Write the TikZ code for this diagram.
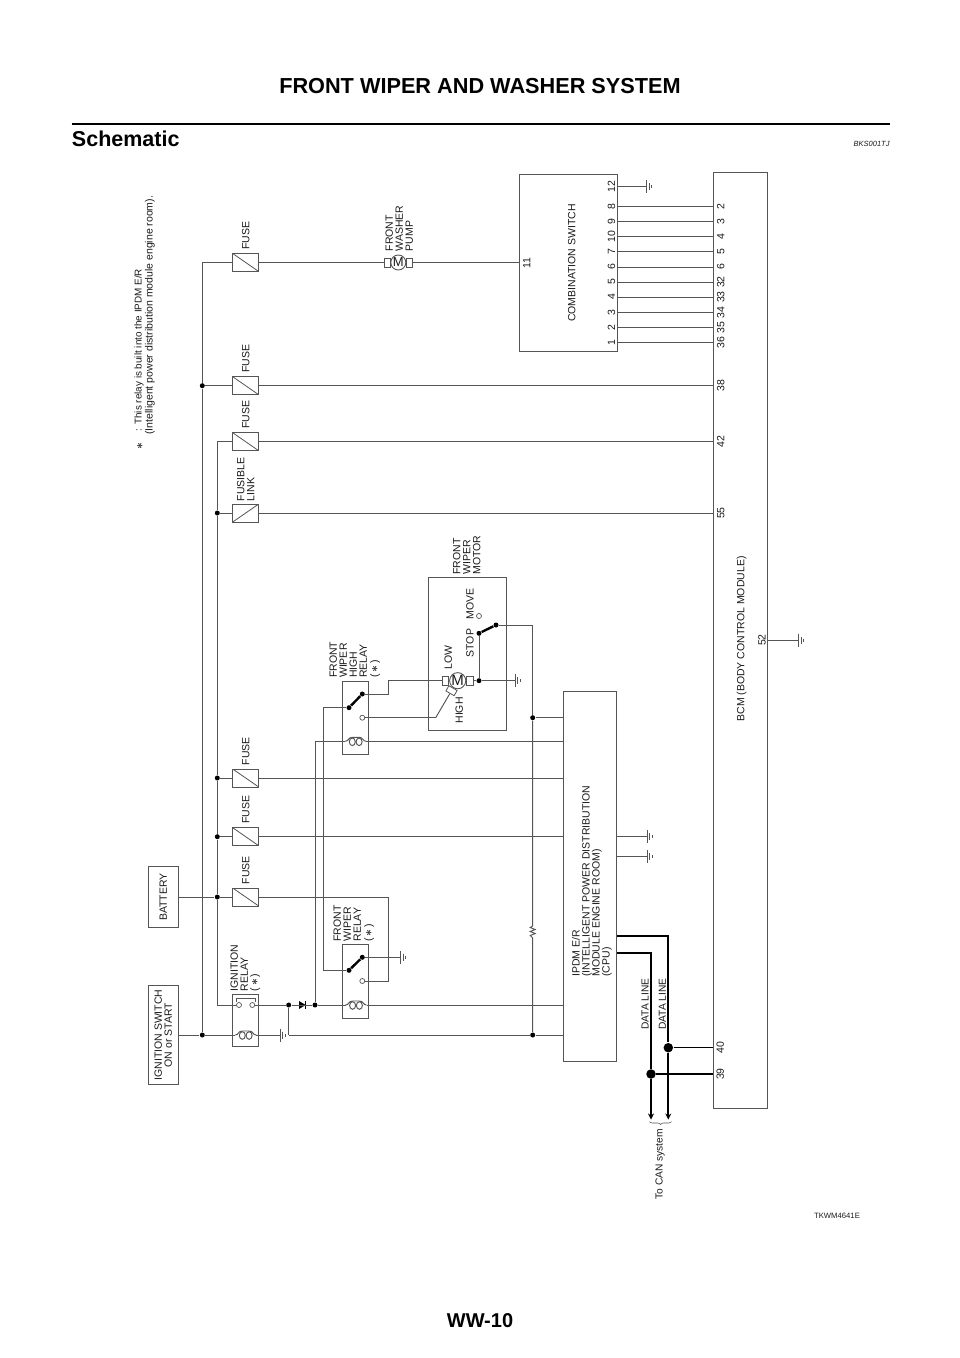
\documentclass[tikz,border=0pt]{standalone}
\usepackage{fontspec}
\setmainfont{Liberation Sans}
\usepackage{tikz}
\usetikzlibrary{arrows.meta}
\usetikzlibrary{positioning, decorations.pathreplacing}

\definecolor{wirecol}{HTML}{555555}
\definecolor{textcol}{HTML}{1A1A1A}
\newcommand{\relstar}{{\fontsize{13}{10}\selectfont\boldmath$\ast$}}

\tikzset{
    coil/.pic={
        \coordinate (-w) at (-10.5,0);
        \coordinate (-e) at (10.5,0);
        \draw (-10.5,0) .. controls (-7,0) and (-7.5,-4) .. (-3.5,-4) -- (3.5,-4) .. controls (7.5,-4) and (7,0) .. (10.5,0);
        \draw (-3.4,0.5) ellipse (3 and 3.8);
        \draw (3.4,0.5) ellipse (3 and 3.8);
    },
    gnd/.pic={
        \draw (0,-6.5) -- (0,6.5);
        \draw (2.7,-3.5) -- (2.7,3.5);
        \draw (5.2,-1.5) -- (5.2,1.5);
    },
    diode/.pic={
        \fill[black] (-3.3,-4) -- (-3.3,4) -- (3.3,0) -- cycle;
        \draw[black] (3.3,-4) -- (3.3,4);
    }
}

\begin{document}
\begin{tikzpicture}[x=1pt,y=-1pt,draw=wirecol,line width=0.95pt,text=textcol,
    every node/.style={font=\fontsize{10.5}{10}\selectfont,inner sep=0pt},
    box node/.style={draw,rectangle,minimum width=#1},
    fuse node/.style={draw,rectangle,fill=white,minimum width=26pt,minimum height=18pt,line width=0.8pt,
        path picture={\draw (path picture bounding box.north west) -- (path picture bounding box.south east);}},
    link node/.style={fuse node,
        path picture={\draw (path picture bounding box.south west) -- (path picture bounding box.north east);}},
    dot node/.style={circle,fill=black,minimum size=5pt},
    big dot/.style={circle,fill=black,minimum size=9.5pt},
    arm dot/.style={circle,fill=black,minimum size=5pt},
    contact node/.style={circle,draw,fill=white,minimum size=5pt,line width=0.7pt},
    motor node/.style={circle,draw,minimum size=#1,font=\fontsize{15}{15}\selectfont,line width=0.9pt},
    brush node/.style={draw,fill=white,rectangle,minimum width=6.5pt,minimum height=9.5pt,line width=0.8pt},
    vert node/.style={rotate=90,anchor=west},
    stack node/.style={rotate=90,anchor=north west,align=left},
    center node/.style={rotate=90,anchor=center,align=center},
    arm line/.style={line width=2.4pt,draw=black},
    data line/.style={line width=2.1pt,draw=black}]

    % page texts
    \node[font=\bfseries\fontsize{21.7}{21.7}\selectfont,text=black] (title) at (480,86) {FRONT WIPER AND WASHER SYSTEM};
    \node[font=\bfseries\fontsize{21.5}{21.5}\selectfont,text=black,anchor=base west] (head) at (71.5,146) {Schematic};
    \node[font=\itshape\fontsize{7.5}{7.5}\selectfont,anchor=base east] (bks) at (890,146) {BKS001TJ};
    \node[font=\fontsize{7.7}{7.7}\selectfont] (tkwm) at (837,1216) {TKWM4641E};
    \node[font=\bfseries\fontsize{20}{20}\selectfont,text=black] (page) at (480,1321) {WW-10};
    \coordinate (ruleL) at (71.5,124);
    \coordinate (ruleR) at (890,124);
    \draw[line width=2.8pt,draw=black] (ruleL) -- (ruleR);

    % note
    \node[vert node,font=\fontsize{13}{13}\selectfont\boldmath] (star) at (140,450) {$\ast$};
    \node[vert node,font=\fontsize{9.9}{10}\selectfont] (note1) at (139,431.5) {: This relay is built into the IPDM E/R};
    \node[vert node] (note2) at (150,435) {(Intelligent power distribution module engine room).};

    % boxes
    \node[box node=30pt,minimum height=60.5pt] (batt) at (163.3,897) {};
    \node[rotate=90] (battT) at (batt) {BATTERY};
    \node[box node=30pt,minimum height=98.5pt] (ign) at (163.3,1035) {};
    \node[center node] (ignT) at (ign) {IGNITION SWITCH\\ON or START};
    \node[box node=26pt,minimum height=52pt] (igrel) at (245.7,1020.2) {};
    \node[box node=26pt,minimum height=74pt] (wrel) at (355.7,981.3) {};
    \node[box node=26pt,minimum height=72.5pt] (hrel) at (355.5,718) {};
    \node[box node=77.7pt,minimum height=153.4pt] (mbox) at (467.8,654) {};
    \node[box node=53.4pt,minimum height=370pt] (ipdm) at (590,876) {};
    \node[box node=97.7pt,minimum height=177pt] (comb) at (568.2,262.5) {};
    \node[box node=53.7pt,minimum height=936.3pt] (bcm) at (740.8,640.2) {};

    \node[stack node] (ipdmT) at (571.5,977) {IPDM E/R\\(INTELLIGENT POWER DISTRIBUTION\\MODULE ENGINE ROOM)\\(CPU)};
    \node[rotate=90] (combT) at (571.7,263) {COMBINATION SWITCH};
    \node[vert node] (bcmT) at (741.7,722) {BCM (BODY CONTROL MODULE)};

    % fuses
    \node[fuse node] (f1) at (245.7,262.5) {};
    \node[fuse node] (f2) at (245.7,385.7) {};
    \node[fuse node] (f3) at (245.7,441.7) {};
    \node[link node] (f4) at (245.7,513) {};
    \node[fuse node] (f5) at (245.7,778) {};
    \node[fuse node] (f6) at (245.7,836.7) {};
    \node[fuse node] (f7) at (245.7,897) {};
    \foreach \f in {f1,f2,f3,f5,f6,f7}
        \node[vert node] (\f T) at ([yshift=3pt]\f.north) {FUSE};
    \node[stack node] (f4T) at (236.5,501.7) {FUSIBLE\\LINK};

    % bus lines
    \node[dot node] (a1) at (202.3,1035) {};
    \node[dot node] (a2) at (202.3,385.7) {};
    \coordinate (a3) at (202.3,262.5);
    \coordinate (b1) at (217.3,441.7);
    \node[dot node] (b2) at (217.3,513) {};
    \node[dot node] (b3) at (217.3,778) {};
    \node[dot node] (b4) at (217.3,836.7) {};
    \node[dot node] (b5) at (217.3,897) {};
    \coordinate (b6) at (217.3,1005);
    \path (a1) edge (a2) (a2) edge (a3) (a3) edge (f1.west) (a2) edge (f2.west);
    \path (b1) edge (f3.west) edge (b2) (b2) edge (f4.west) edge (b3)
        (b3) edge (f5.west) edge (b4) (b4) edge (f6.west) edge (b5)
        (b5) edge (f7.west) edge (b6);
    \path (batt.east) edge (b5) (ign.east) edge (a1);

    % washer pump
    \node[motor node=15pt,font=\fontsize{13}{13}\selectfont] (pump) at (398.3,262.5) {M};
    \node[brush node,minimum width=5.5pt,minimum height=9pt,left=0pt of pump] (pumpL) {};
    \node[brush node,minimum width=5.5pt,minimum height=9pt,right=0pt of pump] (pumpR) {};
    \node[stack node] (pumpT) at (385,251.7) {FRONT\\WASHER\\PUMP};
    \path (f1.east) edge (pumpL.west) (pumpR.east) edge (comb.west |- pumpR);
    \node[rotate=90] (pin11) at (526.7,263) {11};

    % ignition relay
    \coordinate (irA) at (239,1005);
    \coordinate (irB) at (252.3,1005);
    \path (b6) edge (irA);
    \node[contact node] (irC1) at (irA) {};
    \node[contact node] (irC2) at (irB) {};
    \draw[line width=0.8pt] (236.7,1001.5) -- (236.7,998.5) -- (255,998.5) -- (255,1001.5);
    \pic (irCoil) at (245.7,1035) {coil};
    \path (a1) edge (irCoil-w);
    \coordinate (g1) at (280,1035);
    \path (irCoil-e) edge (g1);
    \pic at (g1) {gnd};
    \node[stack node] (irT) at (230,991.7) {IGNITION\\RELAY\\(\,\relstar\,)};

    % diode and relay feed
    \node[dot node] (c1) at (288.7,1005) {};
    \node[dot node] (c2) at (315,1005) {};
    \pic at (302.3,1005) {diode};
    \path (irC2) edge (c1) (c1) edge (c2);
    \pic (wCoil) at (356,1005) {coil};
    \path (c2) edge (wCoil-w) (wCoil-e) edge (ipdm.west |- wCoil-e);
    \coordinate (c3) at (288.7,1035);
    \node[dot node] (r4) at (532.7,1035) {};
    \path (c1) edge (c3) (c3) edge (r4) (r4) edge (ipdm.west |- r4);
    \coordinate (c4) at (315,741.3);
    \path (c2) edge (c4);

    % front wiper relay
    \node[arm dot] (wP) at (349,970.3) {};
    \node[arm dot] (wS) at (362.3,957.3) {};
    \path[arm line] (wP) edge (wS);
    \node[contact node] (wO) at (362.3,981) {};
    \coordinate (g2) at (400.7,957.3);
    \path (wS) edge (g2);
    \pic at (g2) {gnd};
    \coordinate (wA) at (323.3,970.3);
    \coordinate (wB) at (323.3,707.7);
    \draw (f7.east) -| (388.3,981) -- (wO);
    \draw (wP) -- (wA) -- (wB);
    \node[stack node] (wT) at (333,942) {FRONT\\WIPER\\RELAY\\[1pt](\,\relstar\,)};

    % high relay
    \node[arm dot] (hP) at (349,707.7) {};
    \node[arm dot] (hS) at (362.3,694) {};
    \path[arm line] (hP) edge (hS);
    \node[contact node] (hO) at (362.3,717.7) {};
    \path (wB) edge (hP);
    \pic (hCoil) at (355.7,741.3) {coil};
    \path (c4) edge (hCoil-w) (hCoil-e) edge (ipdm.west |- hCoil-e);
    \node[stack node] (hT) at (329,678.3) {FRONT\\WIPER\\HIGH\\RELAY\\[1pt](\,\relstar\,)};

    % wiper motor
    \node[motor node=16pt] (mot) at (457.7,680.7) {M};
    \node[brush node,left=0pt of mot] (motL) {};
    \node[brush node,right=0pt of mot] (motR) {};
    \node[brush node,rotate=-30,minimum width=9.5pt,minimum height=6pt] (motH) at (451.5,690.7) {};
    \node[dot node] (m1) at (479,680.7) {};
    \node[arm dot] (mP) at (479,633.3) {};
    \node[arm dot] (mS) at (496,625) {};
    \path[arm line] (mP) edge (mS);
    \node[contact node] (mO) at (479,616) {};
    \coordinate (g3) at (515,680.7);
    \path (motR.east) edge (m1) (m1) edge (g3) edge (mP);
    \pic at (g3) {gnd};
    \coordinate (m2) at (435.7,717.7);
    \node[dot node] (r1) at (532.7,717.7) {};
    \draw (hS) -- (388.3,694) |- (motL.west);
    \path (motH.south) edge (m2) (m2) edge (hO) (r1) edge (ipdm.west |- r1);
    \coordinate (r2) at (532.7,625);
    \path (mS) edge (r2) (r2) edge (r1);
    \node[stack node] (motT) at (452.5,575) {FRONT\\WIPER\\MOTOR};
    \node[vert node] (lowT) at (448.3,670) {LOW};
    \node[vert node] (highT) at (459.3,724) {HIGH};
    \node[vert node] (stopT) at (470,657.7) {STOP};
    \node[vert node] (moveT) at (470,620) {MOVE};

    % resistor
    \coordinate (r3) at (532.7,926);
    \coordinate (r5) at (532.7,938);
    \draw (r1) -- (r3) -- ++(-2.5,1.5) -- ++(5,2) -- ++(-5,2) -- ++(5,2) -- ++(-5,2) -- ++(2.5,2.5) -- (r5) -- (r4);

    % ipdm side
    \coordinate (i1) at (ipdm.west |- f5.east);
    \coordinate (i2) at (ipdm.west |- f6.east);
    \path (f5.east) edge (i1) (f6.east) edge (i2);
    \coordinate (g4) at (647,836.3);
    \coordinate (g5) at (647,856.3);
    \path (ipdm.east |- g4) edge (g4) (ipdm.east |- g5) edge (g5);
    \pic at (g4) {gnd};
    \pic at (g5) {gnd};

    % data lines
    \node[big dot] (d1) at (651,1074) {};
    \node[big dot] (d2) at (668.3,1047.7) {};
    \coordinate (d3) at (651,1119.5);
    \coordinate (d4) at (668.3,1119.5);
    \draw[data line] (ipdm.east |- 0,953.3) -| (d1);
    \draw[data line] (ipdm.east |- 0,935.7) -| (d2);
    \path[data line,-{Stealth[length=6pt,width=6pt]}] (d1) edge (d3) (d2) edge (d4);
    \path[line width=1.5pt,draw=black] (d1) edge (bcm.west |- d1) (d2) edge (bcm.west |- d2);
    \node[vert node,font=\fontsize{10.2}{10}\selectfont] (dl1) at (645,1030) {DATA LINE};
    \node[vert node,font=\fontsize{10.2}{10}\selectfont] (dl2) at (662.3,1030) {DATA LINE};
    \draw[line width=0.6pt,decorate,decoration={brace,amplitude=3pt}] (671.5,1121.5) -- (649.5,1121.5);
    \node[vert node,font=\fontsize{10.2}{10}\selectfont] (can) at (660,1200) {To CAN system};

    % combination switch to bcm
    \foreach \y/\l/\r in {206.7/8/2,221.7/9/3,236.7/10/4,251.7/7/5,267/6/6,282/5/32,297/4/33,312.3/3/34,327.3/2/35,342.3/1/36} {
        \coordinate (cl\l) at (comb.east |- 0,\y);
        \coordinate (cr\l) at (bcm.west |- 0,\y);
        \path (cl\l) edge (cr\l);
        \node[rotate=90] (pl\l) at (611.5,\y) {\l};
        \node[rotate=90] (pr\l) at (720.8,\y) {\r};
    }
    \coordinate (g6) at (646.7,186.7);
    \path (comb.east |- g6) edge (g6);
    \pic at (g6) {gnd};
    \node[rotate=90] (pl12) at (611.5,186.7) {12};

    % bcm pins
    \path (f2.east) edge (bcm.west |- f2.east) (f3.east) edge (bcm.west |- f3.east) (f4.east) edge (bcm.west |- f4.east);
    \node[rotate=90] (p38) at (720.8,385.7) {38};
    \node[rotate=90] (p42) at (720.8,441.7) {42};
    \node[rotate=90] (p55) at (720.8,513) {55};
    \node[rotate=90] (p39) at (720.3,1074) {39};
    \node[rotate=90] (p40) at (720.3,1047.7) {40};
    \node[rotate=90] (p52) at (762,640) {52};
    \coordinate (g7) at (798.3,640);
    \path (bcm.east |- g7) edge (g7);
    \pic at (g7) {gnd};

    \useasboundingbox (0,0) rectangle (960,1358);
\end{tikzpicture}
\end{document}
